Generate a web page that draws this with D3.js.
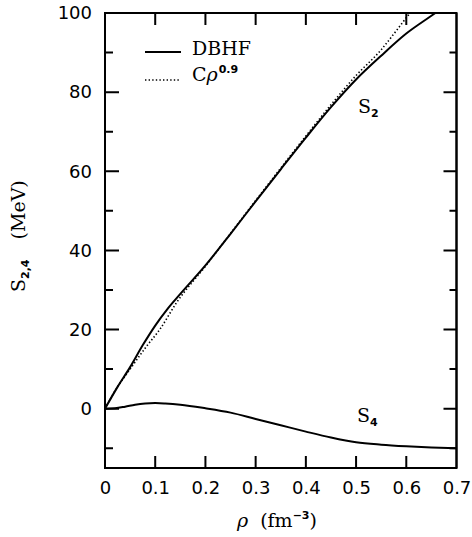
<!DOCTYPE html>
<html>
<head>
<meta charset="utf-8">
<script src="https://cdn.jsdelivr.net/npm/d3@7"></script>
<style>
  html, body { margin: 0; padding: 0; background: #fff; }
  svg { display: block; }
  .tick text { font-family: "DejaVu Sans", sans-serif; font-size: 18px; fill: #000; }
  .serif { font-family: "DejaVu Serif", serif; fill: #000; }
</style>
</head>
<body>
<svg id="chart" width="472" height="537"></svg>
<script>
// Density grid (fm^-3) and symmetry-energy coefficients (MeV)
const rhoS2 = [0, 0.025, 0.05, 0.075, 0.1, 0.125, 0.15, 0.2, 0.25, 0.3, 0.35, 0.4, 0.45, 0.5, 0.55, 0.6, 0.65, 0.68];
const s2DBHF = [0, 5.5, 10.5, 16, 21, 25.3, 29, 36.2, 44.2, 52.4, 60.5, 68.5, 76.2, 83.2, 89.2, 94.8, 99.3, 102];

const rhoFit = [0, 0.02, 0.05, 0.083, 0.109, 0.1425, 0.2, 0.25, 0.3, 0.35, 0.4, 0.45, 0.5, 0.55, 0.58, 0.6, 0.62];
const s2Fit = [0, 4.5, 10, 15.8, 20, 26.8, 36, 44.3, 52.6, 60.8, 68.9, 76.8, 84.2, 90.7, 95.5, 98.8, 102];

const rhoS4 = [0, 0.02, 0.04, 0.06, 0.08, 0.1, 0.12, 0.15, 0.2, 0.25, 0.3, 0.35, 0.4, 0.45, 0.5, 0.55, 0.6, 0.65, 0.7];
const s4DBHF = [0, 0.1, 0.5, 1.0, 1.3, 1.4, 1.3, 1.0, 0.1, -1.0, -2.6, -4.2, -5.8, -7.3, -8.5, -9.1, -9.5, -9.8, -10];

const xTicks = [0, 0.1, 0.2, 0.3, 0.4, 0.5, 0.6, 0.7];
const xTickLabels = ["0", "0.1", "0.2", "0.3", "0.4", "0.5", "0.6", "0.7"];
const yMajor = [0, 20, 40, 60, 80, 100];
const yMinor = [-10, 10, 30, 50, 70, 90];

const svg = d3.select("#chart");
const mLeft = 105, mRight = 456.5, mTop = 13, mBottom = 468;

const x = d3.scaleLinear().domain([0, 0.7]).range([mLeft, mRight]);
const y = d3.scaleLinear().domain([-15, 100]).range([mBottom, mTop]);

svg.append("defs").append("clipPath").attr("id", "plotArea")
  .append("rect").attr("x", mLeft).attr("y", mTop)
  .attr("width", mRight - mLeft).attr("height", mBottom - mTop);

// Tick labels from d3 axes
function labelsOnly(g) {
  g.select(".domain").remove();
  g.selectAll(".tick line").remove();
}
svg.append("g").attr("transform", `translate(0,${mBottom})`)
  .call(d3.axisBottom(x).tickValues(xTicks).tickSize(0).tickPadding(13)
    .tickFormat((d, i) => xTickLabels[i]))
  .call(labelsOnly);
svg.append("g").attr("transform", `translate(${mLeft},0)`)
  .call(d3.axisLeft(y).tickValues(yMajor).tickSize(0).tickPadding(13).tickFormat(d3.format("d")))
  .call(labelsOnly);

// Frame
svg.append("rect").attr("x", mLeft).attr("y", mTop)
  .attr("width", mRight - mLeft).attr("height", mBottom - mTop)
  .attr("fill", "none").attr("stroke", "#000").attr("stroke-width", 2);

// Each side of the frame traced as one polyline with its inward tick marks
const yTickSet = yMajor.slice(0, -1).map(v => [v, 14]).concat(yMinor.map(v => [v, 8]))
  .sort((a, b) => a[0] - b[0]);
const xInner = xTicks.slice(1, -1);
function sidePath(points) { return d3.line()(points); }
const bottomPts = [[mLeft, mBottom]];
xInner.forEach(v => { bottomPts.push([x(v), mBottom], [x(v), mBottom - 12], [x(v), mBottom]); });
bottomPts.push([mRight, mBottom]);
const topPts = [[mLeft, mTop]];
xInner.forEach(v => { topPts.push([x(v), mTop], [x(v), mTop + 12], [x(v), mTop]); });
topPts.push([mRight, mTop]);
const leftPts = [[mLeft, mBottom]];
yTickSet.forEach(([v, len]) => { leftPts.push([mLeft, y(v)], [mLeft + len, y(v)], [mLeft, y(v)]); });
leftPts.push([mLeft, mTop]);
const rightPts = [[mRight, mBottom]];
yTickSet.forEach(([v, len]) => { rightPts.push([mRight, y(v)], [mRight - len + 1, y(v)], [mRight, y(v)]); });
rightPts.push([mRight, mTop]);

svg.append("g").selectAll("path").data([bottomPts, topPts, leftPts, rightPts]).enter().append("path")
  .attr("d", sidePath).attr("fill", "none").attr("stroke", "#000")
  .attr("stroke-width", 2).attr("stroke-linejoin", "bevel");

// Curves
const plot = svg.append("g").attr("clip-path", "url(#plotArea)");
const line = d3.line().x(d => x(d[0])).y(d => y(d[1])).curve(d3.curveMonotoneX);

plot.append("path").datum(rhoFit.map((r, i) => [r, s2Fit[i]]))
  .attr("d", line).attr("fill", "none").attr("stroke", "#000")
  .attr("stroke-width", 1.6).attr("stroke-dasharray", "1.4,2.2");

plot.append("path").datum(rhoS2.map((r, i) => [r, s2DBHF[i]]))
  .attr("d", line).attr("fill", "none").attr("stroke", "#000").attr("stroke-width", 2);

plot.append("path").datum(rhoS4.map((r, i) => [r, s4DBHF[i]]))
  .attr("d", line).attr("fill", "none").attr("stroke", "#000").attr("stroke-width", 2);

// Legend
svg.append("line").attr("x1", 145).attr("x2", 181).attr("y1", 52).attr("y2", 52)
  .attr("stroke", "#000").attr("stroke-width", 2);
svg.append("text").attr("class", "serif").attr("x", 192).attr("y", 55)
  .attr("font-size", 19).text("DBHF");

svg.append("line").attr("x1", 145).attr("x2", 181).attr("y1", 80).attr("y2", 80)
  .attr("stroke", "#000").attr("stroke-width", 1.5).attr("stroke-dasharray", "1.4,2.2");
const leg2 = svg.append("text").attr("class", "serif").attr("x", 192).attr("y", 81).attr("font-size", 19);
leg2.append("tspan").text("C");
leg2.append("tspan").attr("font-style", "italic").text("ρ");
leg2.append("tspan").attr("dy", -8).attr("dx", 1).attr("font-size", 11)
  .attr("font-family", "DejaVu Sans").attr("font-weight", "bold").text("0.9");

// Curve labels
function subLabel(px, py, sub) {
  const t = svg.append("text").attr("class", "serif").attr("x", px).attr("y", py).attr("font-size", 19);
  t.append("tspan").text("S");
  t.append("tspan").attr("dy", 4).attr("font-size", 11)
    .attr("font-family", "DejaVu Sans").attr("font-weight", "bold").text(sub);
}
subLabel(358, 113, "2");
subLabel(357, 422, "4");

// Axis titles
const xt = svg.append("text").attr("class", "serif").attr("x", 237).attr("y", 527).attr("font-size", 19);
xt.append("tspan").attr("font-style", "italic").text("ρ");
xt.append("tspan").attr("dx", 12).text("(fm");
xt.append("tspan").attr("dy", -8).attr("font-size", 11)
  .attr("font-family", "DejaVu Sans").attr("font-weight", "bold").text("−3");
xt.append("tspan").attr("dy", 8).text(")");

const yt = svg.append("text").attr("class", "serif")
  .attr("transform", "translate(25,292) rotate(-90)").attr("font-size", 19);
yt.append("tspan").text("S");
yt.append("tspan").attr("dy", 4).attr("font-size", 11)
  .attr("font-family", "DejaVu Sans").attr("font-weight", "bold").text("2,4");
yt.append("tspan").attr("dy", -4).attr("dx", 20).text("(MeV)");
</script>
</body>
</html>
